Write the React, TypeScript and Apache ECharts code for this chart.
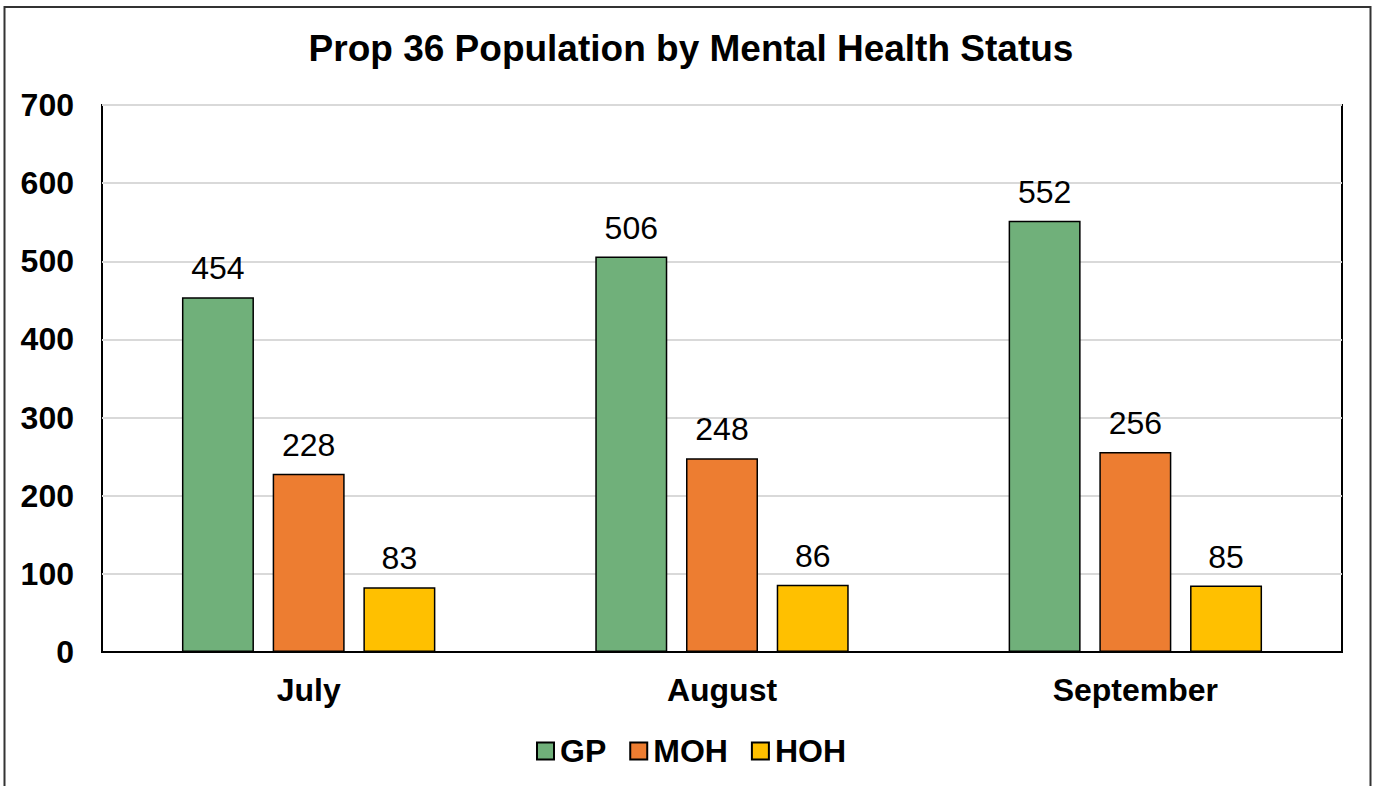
import React, { useEffect, useRef } from "react";
import * as echarts from "echarts";

const categories = ["July", "August", "September"];
const gp = [454, 506, 552];
const moh = [228, 248, 256];
const hoh = [83, 86, 85];
const seriesNames = ["GP", "MOH", "HOH"];
const colors = ["#70B07A", "#ED7D31", "#FFC000"];

export default function App() {
  const ref = useRef<HTMLDivElement>(null);
  useEffect(() => {
    const chart = echarts.init(ref.current!, undefined, { renderer: "svg" });
    const font = "Arial, 'Liberation Sans', sans-serif";
    const dataSets = [gp, moh, hoh];
    chart.setOption({
      animation: false,
      backgroundColor: "#ffffff",
      textStyle: { fontFamily: font },
      title: {
        text: "Prop 36 Population by Mental Health Status",
        left: "center",
        top: 25,
        textStyle: { fontSize: 37, fontWeight: "bold", color: "#000", fontFamily: font },
      },
      graphic: [
        {
          type: "rect",
          shape: { x: 4.5, y: 7, width: 1366, height: 800 },
          style: { fill: "none", stroke: "#333", lineWidth: 2 },
          silent: true,
        },
      ],
      legend: {
        top: 730,
        left: "center",
        itemWidth: 17,
        itemHeight: 17,
        itemGap: 23,
        icon: "rect",
        data: seriesNames,
        textStyle: { fontSize: 32, fontWeight: "bold", color: "#000", fontFamily: font, padding: [0, 0, 0, 1] },
      },
      grid: {
        left: 102,
        top: 105,
        width: 1240,
        height: 547,
        show: true,
        borderColor: "#000",
        borderWidth: 2,
        containLabel: false,
      },
      xAxis: {
        type: "category",
        data: categories,
        axisTick: { show: false },
        axisLine: { show: true, lineStyle: { color: "#000", width: 2 } },
        axisLabel: { fontSize: 32, fontWeight: "bold", color: "#000", margin: 22, fontFamily: font },
      },
      yAxis: {
        type: "value",
        min: 0,
        max: 700,
        interval: 100,
        axisLine: { show: false },
        axisTick: { show: false },
        splitLine: { lineStyle: { color: "#D9D9D9", width: 2 } },
        axisLabel: { fontSize: 32, fontWeight: "bold", color: "#000", margin: 28, fontFamily: font },
      },
      series: seriesNames.map((name, i) => ({
        name,
        type: "bar",
        data: dataSets[i],
        barWidth: 72,
        barGap: "26%",
        itemStyle: { color: colors[i], borderColor: "#000", borderWidth: 1.5 },
        label: {
          show: true,
          position: "top",
          distance: 13,
          fontSize: 32,
          color: "#000",
          fontFamily: font,
        },
      })),
    });
    return () => chart.dispose();
  }, []);
  return (
    <div
      ref={ref}
      style={{ position: "fixed", left: 0, top: 0, width: 1382, height: 786 }}
    />
  );
}
